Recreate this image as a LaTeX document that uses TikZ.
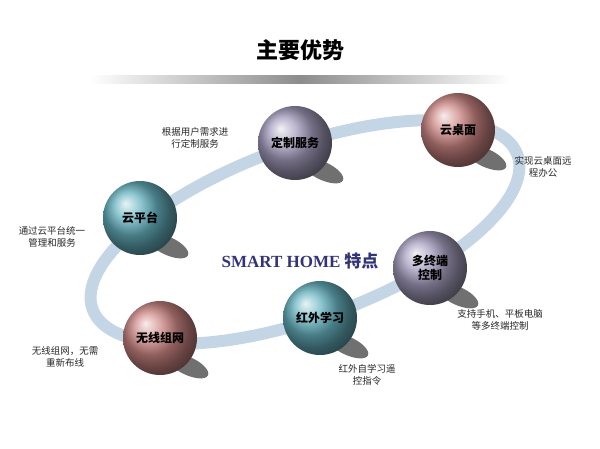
\documentclass[tikz,border=0pt]{standalone}
\usepackage{fontspec}
\setmainfont{Noto Sans CJK SC}
\newfontfamily\serifcn{Liberation Serif}
\usetikzlibrary{shadings}
\definecolor{ring}{HTML}{C4D6E6}
\definecolor{pur}{HTML}{A59EBE}
\definecolor{red}{HTML}{CC8684}
\definecolor{teal}{HTML}{66B2C0}
\tikzset{
 ball/.style={circle,minimum size=74pt,inner sep=0pt,font=\bfseries\fontsize{12}{14}\selectfont,align=center,ball color=#1,text=black},
 lbl/.style={font=\fontsize{9.5}{12.5}\selectfont,align=center,text=black!85},
 shad/.style={fill=black!75,opacity=0.75}
}
\begin{document}
\begin{tikzpicture}[x=1pt,y=-1pt]
\useasboundingbox (0,0) rectangle (600,449);
\node (title) at (300,50) {\fontsize{22}{26}\selectfont\bfseries 主要优势};
\shade[left color=white,right color=white,middle color=black!45] (90,76) rectangle (510,84);
\draw[ring,line width=12pt,rotate around={20:(305,232)}] (305,232) ellipse (226 and 86);
\foreach \x/\y in {295/143,458/130,140/218,430/268,320/318,160/338}
  \fill[shad,rotate around={-25:(\x+28,\y+28)}] (\x+28,\y+28) ellipse (22 and 9);
\node[ball=pur] (a) at (295,143) {定制服务};
\node[ball=red] (b) at (458,130) {云桌面};
\node[ball=teal] (c) at (140,218) {云平台};
\node[ball=pur] (d) at (430,268) {多终端\\控制};
\node[ball=teal] (e) at (320,318) {红外学习};
\node[ball=red] (f) at (160,338) {无线组网};
\node[font=\bfseries\fontsize{17}{20}\selectfont,text=black!55!blue!60!gray] (ctr) at (300,261) {{\serifcn SMART HOME} 特点};
\node[lbl] at (195,138) {根据用户需求进\\行定制服务};
\node[lbl] at (543,167) {实现云桌面远\\程办公};
\node[lbl] at (52,237) {通过云平台统一\\管理和服务};
\node[lbl] at (500,320) {支持手机、平板电脑\\等多终端控制};
\node[lbl] at (65,357) {无线组网，无需\\重新布线};
\node[lbl] at (367,375) {红外自学习遥\\控指令};
\end{tikzpicture}
\end{document}
